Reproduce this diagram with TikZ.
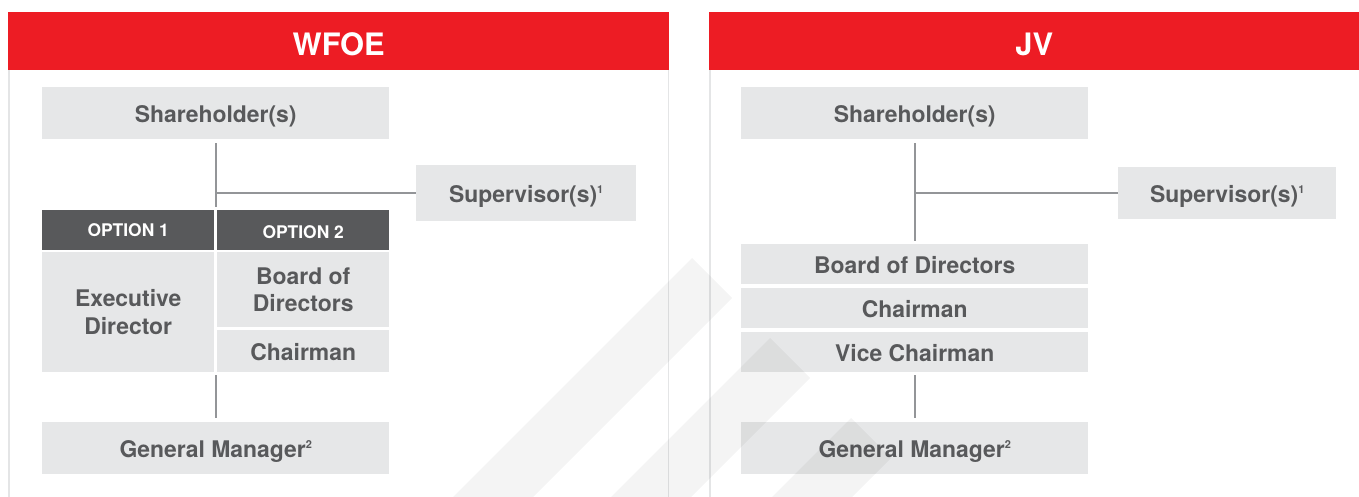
\documentclass[tikz,border=0pt]{standalone}
\usepackage{fontspec}
\setmainfont{TeX Gyre Heros}
\definecolor{wred}{HTML}{ED1C24}
\definecolor{boxg}{HTML}{E6E7E8}
\definecolor{txtg}{HTML}{58595B}
\definecolor{optg}{HTML}{58595B}
\definecolor{lineg}{HTML}{939598}
\definecolor{frameg}{HTML}{E4E5E6}
\newcommand{\supr}[1]{\raisebox{0.42em}{\fontsize{11}{11}\selectfont #1}}
\begin{document}
\begin{tikzpicture}[x=1bp,y=-1bp,
  gbox/.style={fill=boxg, text=txtg, inner sep=0pt, align=center, anchor=north west,
               font=\fontsize{23}{28}\selectfont\bfseries},
  oneline/.style={text height=19bp, text depth=0bp},
  obox/.style={fill=optg, text=white, inner sep=0pt, anchor=north west,
               font=\fontsize{17.5}{20}\selectfont\bfseries},
  headbox/.style={fill=wred, inner sep=0pt, anchor=north west},
  headtext/.style={text=white, inner sep=0pt, font=\fontsize{31}{36}\selectfont\bfseries},
  conn/.style={draw=lineg, line width=2bp},
  frameline/.style={draw=frameg, line width=1.6bp},
  stripe/.style={fill=black, fill opacity=0.045}]
\useasboundingbox (0,0) rectangle (1359,497);
\fill[white] (0,0) rectangle (1359,497);

% panel frames
\draw[frameline] (9,70) -- (9,497);
\draw[frameline] (668.5,70) -- (668.5,497);
\draw[frameline] (710,70) -- (710,497);

% ---------- WFOE ----------
\node[headbox, minimum width=661bp, minimum height=58bp] (h1) at (8,12) {};
\node[headtext] (t1) at ([yshift=-3bp]h1.center) {WFOE};

\node[gbox, oneline, minimum width=347bp, minimum height=52bp] (sh1) at (42,87) {Shareholder(s)};
\node[gbox, oneline, minimum width=220bp, minimum height=56bp] (sup1) at (416,165) {Supervisor(s)\supr{1}};
\node[obox, minimum width=172bp, minimum height=40bp] (o1) at (42,210) {OPTION 1};
\node[obox, text height=17bp, text depth=0bp, minimum width=172bp, minimum height=40bp] (o2) at (217,210) {OPTION 2};
\node[gbox, minimum width=172bp, minimum height=120bp] (ed) at (42,252) {Executive\\Director};
\node[gbox, minimum width=172bp, minimum height=75bp] (bd1) at (217,252) {Board of\\Directors};
\node[gbox, oneline, minimum width=172bp, minimum height=42bp] (ch1) at (217,330) {Chairman};
\node[gbox, oneline, minimum width=347bp, minimum height=52bp] (gm1) at (42,422) {General Manager\supr{2}};

\draw[conn, shorten <=4bp, shorten >=3bp] (sh1.south) -- (sh1.south |- o1.north);
\coordinate (j1) at (sh1.south |- sup1.west);
\draw[conn] (j1) -- (sup1.west);
\draw[conn, shorten <=3bp, shorten >=4bp] (sh1.south |- ed.south) -- (gm1.north);

% ---------- JV ----------
\node[headbox, minimum width=650bp, minimum height=58bp] (h2) at (709,12) {};
\node[headtext] (t2) at ([yshift=-3bp]h2.center) {JV};

\node[gbox, oneline, minimum width=347bp, minimum height=52bp] (sh2) at (741,87) {Shareholder(s)};
\node[gbox, oneline, minimum width=218bp, minimum height=52bp] (sup2) at (1118,167) {Supervisor(s)\supr{1}};
\node[gbox, oneline, minimum width=347bp, minimum height=40bp] (bd2) at (741,244) {Board of Directors};
\node[gbox, oneline, minimum width=347bp, minimum height=40bp] (ch2) at (741,288) {Chairman};
\node[gbox, oneline, minimum width=347bp, minimum height=40bp] (vc2) at (741,332) {Vice Chairman};
\node[gbox, oneline, minimum width=347bp, minimum height=52bp] (gm2) at (741,422) {General Manager\supr{2}};

\draw[conn, shorten <=4bp, shorten >=3bp] (sh2.south) -- (bd2.north);
\coordinate (j2) at (sh2.south |- sup2.west);
\draw[conn] (j2) -- (sup2.west);
\draw[conn, shorten <=3bp, shorten >=4bp] (vc2.south) -- (gm2.north);

% ---------- watermark stripes ----------
\fill[stripe] (453,497) -- (692,258) -- (732,298) -- (533,497) -- cycle;
\fill[stripe] (611,497) -- (770,338) -- (810,378) -- (691,497) -- cycle;
\fill[stripe] (772,497) -- (851,418) -- (891,458) -- (852,497) -- cycle;
\end{tikzpicture}
\end{document}
